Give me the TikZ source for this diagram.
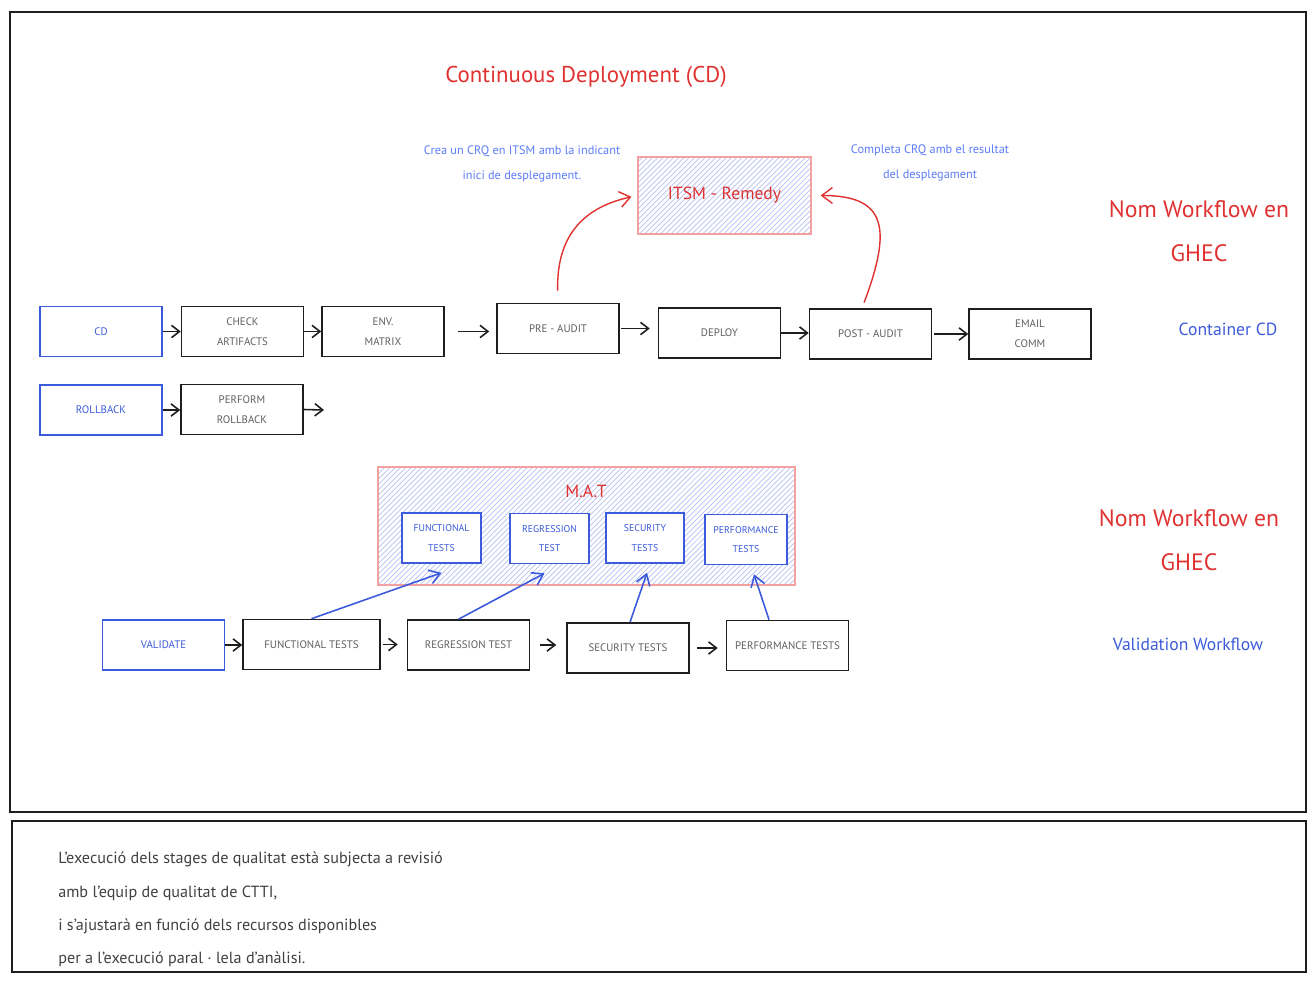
\documentclass[tikz,border=0pt]{standalone}
\usepackage{fontspec}
\setmainfont{PT Sans}
\usepackage{tikz}
\usetikzlibrary{arrows.meta}
\usetikzlibrary{patterns}
\definecolor{xred}{HTML}{E03131}
\definecolor{xpink}{HTML}{F2A0A0}
\definecolor{xblue}{HTML}{3B5BDB}
\definecolor{xnote}{HTML}{5C7CFA}
\definecolor{xhatch}{HTML}{B4C0F2}
\definecolor{xgrey}{HTML}{5F5F5F}
\definecolor{xink}{HTML}{1E1E1E}
\tikzset{
    stage/.style = {draw=xink,line width=0.9pt,fill=white,text=xgrey,align=center,inner sep=0,minimum width=2.44cm,minimum height=1cm,font=\fontsize{6.2}{11.3}\selectfont},
    trigger/.style = {stage,draw=xblue,text=xblue},
    hatched/.style = {draw=xpink,line width=0.8pt,pattern=north east lines,pattern color=xhatch},
    note/.style = {text=xnote,align=center,font=\fontsize{7}{14.7}\selectfont},
    heading/.style = {text=xred,align=center},
    frame/.style = {draw=xink,line width=0.6pt}
}
\tikzset{
    pre/.style = {-{Straight Barb[length=4.5pt,width=7pt]},line width=0.9pt,draw=xink},
    audit/.style = {-{Straight Barb[length=6pt,width=9pt]},line width=0.8pt,draw=xred},
    tst/.style = {-{Straight Barb[length=6pt,width=8pt]},line width=0.9pt,draw=xblue}
}
\begin{document}
\begin{tikzpicture}[x=0.02cm,y=-0.02cm]
        \useasboundingbox (0,0) rectangle (1316,984);
        % Frames
        \draw[frame] (10,12) rectangle (1306,812);
        \draw[frame] (12,821) rectangle (1306,972);
        % Headings
        \node[heading,font=\fontsize{13}{16}\selectfont] (title) at (586,77) {Continuous Deployment (CD)};
        \node[heading,font=\fontsize{13.5}{25}\selectfont] (wfcd) at (1199,231) {Nom Workflow en\\GHEC};
        \node[heading,font=\fontsize{13.5}{25}\selectfont] (wfval) at (1189,540) {Nom Workflow en\\GHEC};
        \node[text=xblue,font=\fontsize{10}{12}\selectfont] (container) at (1228,329) {Container CD};
        \node[text=xblue,font=\fontsize{10}{12}\selectfont] (validation) at (1188,644) {Validation Workflow};
        % Notes
        \node[note] (crea) at (522,164) {Crea un CRQ en ITSM amb la indicant\\inici de desplegament.};
        \node[note] (completa) at (930,163) {Completa CRQ amb el resultat\\del desplegament};
        % ITSM
        \node[hatched,minimum width=3.46cm,minimum height=1.54cm,text=xred,font=\fontsize{10}{12}\selectfont] (itsm) at (724.5,195.5) {ITSM - Remedy};
        % Deployment stages
        \node[trigger] (cd) at (101,331.5) {CD};
        \node[stage] (check) at (242.5,331.5) {CHECK\\ARTIFACTS};
        \node[stage] (env) at (383,331.5) {ENV.\\MATRIX};
        \node[stage] (pre) at (558,328.5) {PRE - AUDIT};
        \node[stage] (deploy) at (719.5,333) {DEPLOY};
        \node[stage] (post) at (870.5,334) {POST - AUDIT};
        \node[stage] (email) at (1030,334) {EMAIL\\COMM};
        % Rollback
        \node[trigger] (rollback) at (101,410) {ROLLBACK};
        \node[stage] (perform) at (242,409.5) {PERFORM\\ROLLBACK};
        \coordinate (performend) at (324,410);
        % M.A.T
        \node[hatched,minimum width=8.34cm,minimum height=2.36cm] (mat) at (586.5,526) {};
        \node[heading,font=\fontsize{10}{12}\selectfont] (matlabel) at (586,491) {M.A.T};
        \node[trigger,minimum width=1.58cm,font=\fontsize{5.6}{11.3}\selectfont] (mfunc) at (441.5,538) {FUNCTIONAL\\TESTS};
        \node[trigger,minimum width=1.58cm,font=\fontsize{5.6}{11.3}\selectfont] (mreg) at (549.5,538.5) {REGRESSION\\TEST};
        \node[trigger,minimum width=1.56cm,font=\fontsize{5.6}{11.3}\selectfont] (msec) at (645,538) {SECURITY\\TESTS};
        \node[trigger,minimum width=1.64cm,font=\fontsize{5.6}{11.3}\selectfont] (mperf) at (746,539.5) {PERFORMANCE\\TESTS};
        % Validation stages
        \node[trigger] (validate) at (163.5,645) {VALIDATE};
        \node[stage,minimum width=2.74cm] (rfunc) at (311.5,644.5) {FUNCTIONAL TESTS};
        \node[stage] (rreg) at (468.5,645) {REGRESSION TEST};
        \node[stage] (rsec) at (628,648) {SECURITY TESTS};
        \node[stage] (rperf) at (787.5,645.5) {PERFORMANCE TESTS};
        % Remark
        \node[anchor=north west,inner sep=0,align=left,text=xink!85,font=\fontsize{9.2}{18.9}\selectfont] (remark) at (58,852)
            {L'execució dels stages de qualitat està subjecta a revisió\\
             amb l'equip de qualitat de CTTI,\\
             i s'ajustarà en funció dels recursos disponibles\\
             per a l'execució paral · lela d'anàlisi.};
        % Precedence
        \foreach \src/\dest/\sa/\sb in {cd/check/0cm/0cm,check/env/0cm/0cm,env/pre/0.26cm/0.14cm,pre/deploy/0.02cm/0.16cm,deploy/post/0cm/0cm,post/email/0.04cm/0cm,rollback/perform/0cm/0cm,validate/rfunc/0cm/0cm,rfunc/rreg/0.04cm/0.18cm,rreg/rsec/0.2cm/0.2cm,rsec/rperf/0.14cm/0.16cm}
            \draw[pre,shorten <=\sa,shorten >=\sb] (\src.east) -- (\src.east -| \dest.west);
        \draw[pre] (perform.east) -- (performend);
        % ITSM calls
        \draw[audit,shorten <=0.24cm,shorten >=0.12cm] (pre.north) .. controls +(-2,-75) and +(-45,10) .. (itsm.west);
        \draw[audit,shorten <=0.12cm,shorten >=0.18cm] ([xshift=-0.17cm]post.north) .. controls +(30,-80) and +(75,0) .. (itsm.east);
        % Test links
        \foreach \src/\dest/\dx/\ex in {rfunc/mfunc/0cm/0cm,rreg/mreg/-0.2cm/-0.1cm,rsec/msec/0.04cm/0.04cm,rperf/mperf/-0.37cm/0.16cm}
            \draw[tst] ([xshift=\dx]\src.north) -- ([xshift=\ex,yshift=-0.18cm]\dest.south);
    \end{tikzpicture}
\end{document}
